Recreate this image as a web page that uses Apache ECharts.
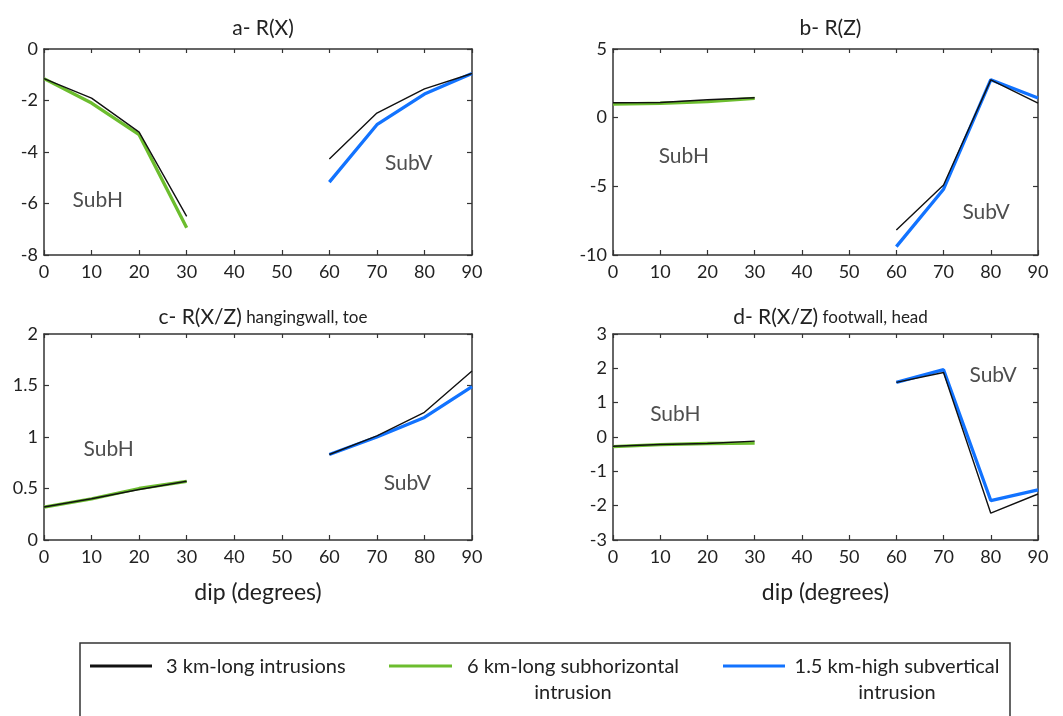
<!DOCTYPE html>
<html>
<head>
<meta charset="utf-8">
<script src="https://cdn.jsdelivr.net/npm/echarts@6/dist/echarts.min.js"></script>
<style>
html,body{margin:0;padding:0;background:#fff;}
#chart{width:1063px;height:716px;}
</style>
</head>
<body>
<div id="chart"></div>
<script>
// ---- data ----
const dipH = [0, 10, 20, 30];
const dipV = [60, 70, 80, 90];

const panelTitles = ['a- R(X)', 'b- R(Z)', 'c- R(X/Z)', 'd- R(X/Z)'];
const panelSubtitles = ['', '', ' hangingwall, toe', ' footwall, head'];

const aBlackH = [-1.15, -1.91, -3.23, -6.5];
const aGreen  = [-1.15, -2.1, -3.33, -6.94];
const aBlackV = [-4.27, -2.49, -1.55, -0.95];
const aBlue   = [-5.17, -2.94, -1.75, -0.95];

const bBlackH = [1.09, 1.1, 1.3, 1.45];
const bGreen  = [0.99, 1.05, 1.17, 1.4];
const bBlackV = [-8.18, -4.9, 2.75, 1.06];
const bBlue   = [-9.39, -5.21, 2.76, 1.43];

const cBlackH = [0.32, 0.40, 0.49, 0.57];
const cGreen  = [0.32, 0.40, 0.50, 0.57];
const cBlackV = [0.83, 1.01, 1.24, 1.64];
const cBlue   = [0.83, 1.0, 1.19, 1.49];

const dBlackH = [-0.27, -0.22, -0.19, -0.12];
const dGreen  = [-0.28, -0.22, -0.19, -0.18];
const dBlackV = [1.59, 1.88, -2.22, -1.66];
const dBlue   = [1.59, 1.96, -1.85, -1.54];

const yMins = [-8, -10, 0, -3];
const yMaxs = [0, 5, 2, 3];
const yIntervals = [2, 5, 0.5, 1];

// annotation labels: [x, y, text] in data units
const annA = [[11.3, -5.86, 'SubH'], [76.7, -4.42, 'SubV']];
const annB = [[15.0, -2.78, 'SubH'], [79.0, -6.87, 'SubV']];
const annC = [[13.6, 0.88, 'SubH'], [76.4, 0.55, 'SubV']];
const annD = [[13.2, 0.675, 'SubH'], [80.5, 1.81, 'SubV']];

const xAxisName = 'dip (degrees)';
const legendNames = ['3 km-long intrusions', '6 km-long subhorizontal\nintrusion', '1.5 km-high subvertical\nintrusion'];

// ---- style ----
const FONT = 'Lato, "Open Sans", sans-serif';
const TXT = '#222';
const AX = '#333';
const C_BLACK = '#111111';
const C_GREEN = '#6cbd2e';
const C_BLUE = '#1273ff';

const grids = [
  {left: 44, top: 49, width: 428, height: 206},
  {left: 613, top: 49, width: 425, height: 206},
  {left: 44, top: 334, width: 428, height: 206},
  {left: 613, top: 334, width: 425, height: 206}
];

const pairs = (xs, ys) => xs.map((x, i) => [x, ys[i]]);
const panels = [
  {bh: aBlackH, g: aGreen, bv: aBlackV, bl: aBlue, ann: annA},
  {bh: bBlackH, g: bGreen, bv: bBlackV, bl: bBlue, ann: annB},
  {bh: cBlackH, g: cGreen, bv: cBlackV, bl: cBlue, ann: annC},
  {bh: dBlackH, g: dGreen, bv: dBlackV, bl: dBlue, ann: annD}
];

const tickStyle = (len) => ({show: true, inside: true, length: len, lineStyle: {color: AX, width: 1.2}});
const lineStyleAx = {show: true, onZero: false, lineStyle: {color: AX, width: 1.5}};

const xAxes = [], yAxes = [], series = [], titles = [];
grids.forEach((g, i) => {
  const isBottom = i >= 2;
  xAxes.push({
    type: 'value', gridIndex: i, min: 0, max: 90, interval: 10, position: 'bottom',
    axisLine: lineStyleAx,
    axisTick: tickStyle(5),
    axisLabel: {color: TXT, fontFamily: FONT, fontSize: 18, margin: 8},
    splitLine: {show: false},
    name: isBottom ? xAxisName : '', nameLocation: 'middle', nameGap: 41,
    nameTextStyle: {color: TXT, fontFamily: FONT, fontSize: 23}
  });
  xAxes.push({
    type: 'value', gridIndex: i, min: 0, max: 90, interval: 10, position: 'top',
    axisLine: lineStyleAx,
    axisTick: tickStyle(4),
    axisLabel: {show: false}, splitLine: {show: false}
  });
  yAxes.push({
    type: 'value', gridIndex: i, min: yMins[i], max: yMaxs[i], interval: yIntervals[i], position: 'left',
    axisLine: lineStyleAx,
    axisTick: tickStyle(5),
    axisLabel: {color: TXT, fontFamily: FONT, fontSize: 18, margin: 6},
    splitLine: {show: false}
  });
  yAxes.push({
    type: 'value', gridIndex: i, min: yMins[i], max: yMaxs[i], interval: yIntervals[i], position: 'right',
    axisLine: lineStyleAx,
    axisTick: tickStyle(5),
    axisLabel: {show: false}, splitLine: {show: false}
  });
  const p = panels[i];
  const xi = i * 2, yi = i * 2;
  const mk = (name, data, color, width, z) => ({
    type: 'line', name, xAxisIndex: xi, yAxisIndex: yi, data, showSymbol: false,
    symbol: 'none', lineStyle: {color, width}, itemStyle: {color}, z, animation: false, silent: true
  });
  series.push(mk(legendNames[1], pairs(dipH, p.g), C_GREEN, 3.3, 2));
  series.push(mk(legendNames[2], pairs(dipV, p.bl), C_BLUE, 3.3, 2));
  series.push(mk(legendNames[0], pairs(dipH, p.bh), C_BLACK, 1.4, 3));
  series.push(mk(legendNames[0], pairs(dipV, p.bv), C_BLACK, 1.4, 3));
  series.push({
    type: 'scatter', xAxisIndex: xi, yAxisIndex: yi, symbolSize: 0, silent: true, animation: false,
    data: p.ann.map(a => ({value: [a[0], a[1]], name: a[2]})),
    label: {show: true, position: 'inside', formatter: '{b}', color: TXT, fontFamily: FONT, fontSize: 21}
  });
  titles.push({
    text: '{m|' + panelTitles[i] + '}' + (panelSubtitles[i] ? '{s|' + panelSubtitles[i] + '}' : ''),
    left: g.left + g.width / 2, top: i < 2 ? 13 : 302, textAlign: 'center',
    textStyle: {
      fontWeight: 'normal',
      rich: {
        m: {fontFamily: FONT, fontSize: 21, color: TXT, fontWeight: 'normal'},
        s: {fontFamily: FONT, fontSize: 17, color: TXT, fontWeight: 'normal'}
      }
    }
  });
});

// legend drawn as graphic
const LY = 666;
const legendGraphic = [
  {type: 'rect', shape: {x: 80, y: 643, width: 930, height: 90}, style: {fill: 'none', stroke: AX, lineWidth: 1.5}},
  {type: 'line', shape: {x1: 90, y1: LY, x2: 152, y2: LY}, style: {stroke: C_BLACK, lineWidth: 3}},
  {type: 'text', x: 166, y: LY + 1, style: {text: legendNames[0], font: '20px ' + FONT, fill: TXT, verticalAlign: 'middle'}},
  {type: 'line', shape: {x1: 389, y1: LY, x2: 452, y2: LY}, style: {stroke: C_GREEN, lineWidth: 3}},
  {type: 'text', x: 573, y: 654, style: {text: legendNames[1], font: '20px ' + FONT, fill: TXT, align: 'center', verticalAlign: 'top', lineHeight: 26}},
  {type: 'line', shape: {x1: 723, y1: LY, x2: 785, y2: LY}, style: {stroke: C_BLUE, lineWidth: 3}},
  {type: 'text', x: 897, y: 654, style: {text: legendNames[2], font: '20px ' + FONT, fill: TXT, align: 'center', verticalAlign: 'top', lineHeight: 26}}
];

const chart = echarts.init(document.getElementById('chart'), null, {renderer: 'canvas'});
chart.setOption({
  backgroundColor: '#fff',
  animation: false,
  title: titles,
  grid: grids,
  xAxis: xAxes,
  yAxis: yAxes,
  series: series,
  graphic: legendGraphic
});
</script>
</body>
</html>
